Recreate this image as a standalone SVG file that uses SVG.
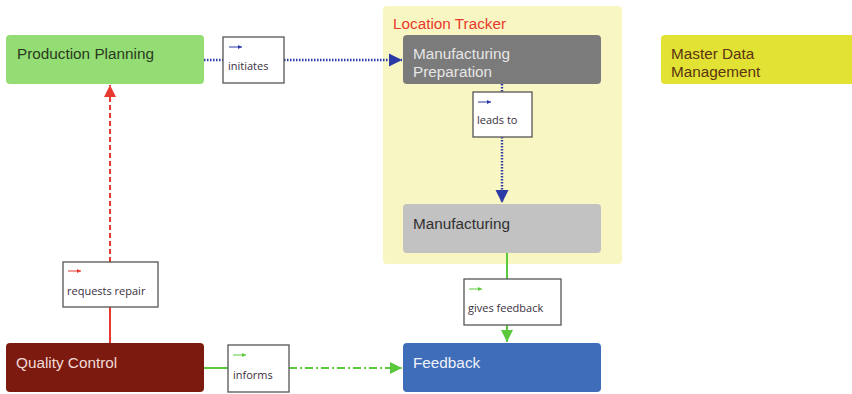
<svg xmlns="http://www.w3.org/2000/svg" width="852" height="394" viewBox="0 0 852 394">
<defs>
<style>
.node{stroke:none}
.nt{font-family:"Liberation Sans",Arial,sans-serif;font-size:15.3px}
.lbl{fill:#fff;stroke:#555;stroke-width:1.3}
.lt{font-family:"Open Sans","Liberation Sans",sans-serif;font-size:11px;fill:#3a3040}
.blue{stroke:#2c3aa6;stroke-width:2.4;stroke-dasharray:1.5 1.5;fill:none}
.red{stroke:#e8392e;stroke-width:2;stroke-dasharray:5 3;fill:none}
.redS{stroke:#e8392e;stroke-width:2;fill:none}
.green{stroke:#5cc83c;stroke-width:2;fill:none}
.greenDD{stroke:#5cc83c;stroke-width:2;stroke-dasharray:8 3 2 3;fill:none}
.ib{stroke:#2c3aa6;stroke-width:1;fill:none}
.ir{stroke:#e8392e;stroke-width:1;fill:none}
.ig{stroke:#5cc83c;stroke-width:1;fill:none}
</style>
<marker id="ab" viewBox="0 0 10 10" refX="10" refY="5" markerWidth="5.5" markerHeight="5.5" orient="auto" markerUnits="strokeWidth"><path d="M0,0 L10,5 L0,10 z" fill="#2c3aa6"/></marker>
<marker id="ar" viewBox="0 0 10 10" refX="10" refY="5" markerWidth="6" markerHeight="6" orient="auto" markerUnits="strokeWidth"><path d="M0,0 L10,5 L0,10 z" fill="#e8392e"/></marker>
<marker id="ag" viewBox="0 0 10 10" refX="10" refY="5" markerWidth="6" markerHeight="6" orient="auto" markerUnits="strokeWidth"><path d="M0,0 L10,5 L0,10 z" fill="#5cc83c"/></marker>
<marker id="sb" viewBox="0 0 10 10" refX="10" refY="5" markerWidth="4.5" markerHeight="4.5" orient="auto" markerUnits="strokeWidth"><path d="M0,0 L10,5 L0,10 z" fill="#2c3aa6"/></marker>
<marker id="sr" viewBox="0 0 10 10" refX="10" refY="5" markerWidth="4.5" markerHeight="4.5" orient="auto" markerUnits="strokeWidth"><path d="M0,0 L10,5 L0,10 z" fill="#e8392e"/></marker>
<marker id="sg" viewBox="0 0 10 10" refX="10" refY="5" markerWidth="4.5" markerHeight="4.5" orient="auto" markerUnits="strokeWidth"><path d="M0,0 L10,5 L0,10 z" fill="#5cc83c"/></marker>
</defs>
<rect width="852" height="394" fill="#fff"/>

<g id="location-tracker">
<rect x="383" y="6" width="239" height="258" rx="4" fill="#f8f6c2"/>
<text x="393" y="29" font-family="Liberation Sans,Arial,sans-serif" font-size="15.3" fill="#e8392e">Location Tracker</text>
</g>

<g id="connectors">
<line class="blue" x1="204" y1="60" x2="223" y2="60"/>
<line class="blue" x1="284" y1="60" x2="402" y2="60" marker-end="url(#ab)"/>
<line class="blue" x1="502" y1="84" x2="502" y2="92"/>
<line class="blue" x1="502" y1="137" x2="502" y2="203" marker-end="url(#ab)"/>
<line class="green" x1="507" y1="253" x2="507" y2="279"/>
<line class="green" x1="507" y1="325" x2="507" y2="342" marker-end="url(#ag)"/>
<line class="redS" x1="110" y1="343" x2="110" y2="307"/>
<line class="red" x1="110" y1="262" x2="110" y2="85" marker-end="url(#ar)"/>
<line class="green" x1="204" y1="368" x2="228" y2="368"/>
<line class="greenDD" x1="289" y1="368" x2="402" y2="368" marker-end="url(#ag)"/>
</g>

<g id="production-planning">
<rect class="node" x="6" y="35" width="198" height="49" rx="4" fill="#93dd74"/>
<text class="nt" x="17" y="59" fill="#2a3a20">Production Planning</text>
</g>
<g id="manufacturing-preparation">
<rect class="node" x="403" y="35" width="198" height="49" rx="4" fill="#7b7b7b"/>
<text class="nt" x="413" y="59" fill="#e6e6e6">Manufacturing</text>
<text class="nt" x="413" y="77" fill="#e6e6e6">Preparation</text>
</g>
<g id="master-data-management">
<rect class="node" x="661" y="35" width="200" height="49" rx="4" fill="#e2e234"/>
<text class="nt" x="671" y="59" fill="#5a3412">Master Data</text>
<text class="nt" x="671" y="77" fill="#5a3412">Management</text>
</g>
<g id="manufacturing">
<rect class="node" x="403" y="204" width="198" height="49" rx="4" fill="#c2c2c2"/>
<text class="nt" x="413" y="229" fill="#303030">Manufacturing</text>
</g>
<g id="feedback">
<rect class="node" x="403" y="343" width="198" height="49" rx="4" fill="#3f6db9"/>
<text class="nt" x="413" y="368" fill="#eef2fa">Feedback</text>
</g>
<g id="quality-control">
<rect class="node" x="6" y="343" width="198" height="49" rx="4" fill="#7c1a10"/>
<text class="nt" x="16" y="368" fill="#f2dcd6">Quality Control</text>
</g>

<g id="label-initiates">
<rect class="lbl" x="223" y="37" width="61" height="46"/>
<line class="ib" x1="229" y1="47" x2="242" y2="47" marker-end="url(#sb)"/>
<text class="lt" x="228" y="70">initiates</text>
</g>
<g id="label-leads-to">
<rect class="lbl" x="473" y="92" width="59" height="45"/>
<line class="ib" x1="478" y1="102" x2="491" y2="102" marker-end="url(#sb)"/>
<text class="lt" x="477" y="124">leads to</text>
</g>
<g id="label-gives-feedback">
<rect class="lbl" x="464" y="279" width="97" height="46"/>
<line class="ig" x1="469" y1="289" x2="482" y2="289" marker-end="url(#sg)"/>
<text class="lt" x="468" y="312">gives feedback</text>
</g>
<g id="label-requests-repair">
<rect class="lbl" x="63" y="262" width="95" height="45"/>
<line class="ir" x1="68" y1="271" x2="81" y2="271" marker-end="url(#sr)"/>
<text class="lt" x="67" y="295">requests repair</text>
</g>
<g id="label-informs">
<rect class="lbl" x="228" y="345" width="61" height="47"/>
<line class="ig" x1="233" y1="355" x2="246" y2="355" marker-end="url(#sg)"/>
<text class="lt" x="233" y="379">informs</text>
</g>
</svg>
